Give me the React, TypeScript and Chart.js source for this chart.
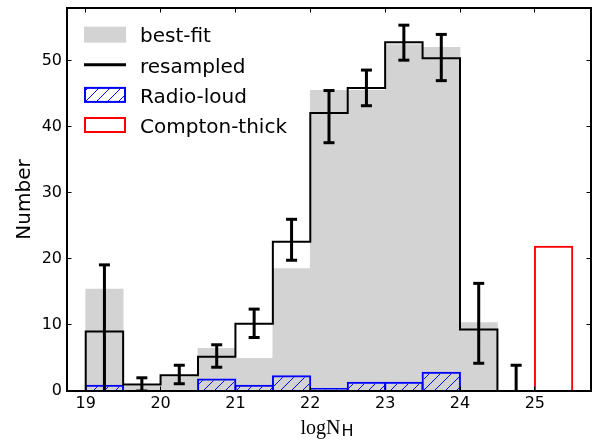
import React, { useEffect, useRef } from 'react';
import { Chart, registerables } from 'chart.js';

Chart.register(...registerables);

// ---- data ----
const binLefts = [19, 19.5, 20, 20.5, 21, 21.5, 22, 22.5, 23, 23.5, 24, 24.5];
const binWidth = 0.5;
const bestFit = [15.5, 0.8, 2.2, 6.5, 5.0, 18.6, 45.6, 45.6, 52.5, 52.1, 10.4, 0];
const resampled = [9, 1, 2.4, 5.2, 10.2, 22.6, 42.1, 45.9, 52.8, 50.4, 9.3, 0];
const errLow = [-1, 0, 1.1, 3.6, 8.1, 19.8, 37.6, 43.2, 50.1, 47.0, 4.2, -3.9];
const errHigh = [19.1, 2.0, 3.9, 7.0, 12.4, 26.0, 45.5, 48.6, 55.4, 54.0, 16.3, 3.9];
const radioLoud = [0.95, 0, 0, 1.9, 0.95, 2.4, 0.45, 1.4, 1.4, 2.9, 0, 0];
const comptonLefts = [25];
const comptonThick = [22];
const xTicks = [19, 20, 21, 22, 23, 24, 25];
const yTicks = [0, 10, 20, 30, 40, 50];
const xRange = [18.75, 25.75];
const yRange = [0, 58];
const seriesLabels = ['best-fit', 'resampled', 'Radio-loud', 'Compton-thick'];
const yTitle = 'Number';
const xTitleMain = 'logN';
const xTitleSub = 'H';

function makeHatch(ctx: CanvasRenderingContext2D, color: string, size: number) {
  const c = document.createElement('canvas');
  c.width = size;
  c.height = size;
  const g = c.getContext('2d')!;
  g.strokeStyle = color;
  g.lineWidth = 1;
  g.beginPath();
  g.moveTo(0, size);
  g.lineTo(size, 0);
  g.moveTo(-size / 2, size / 2);
  g.lineTo(size / 2, -size / 2);
  g.moveTo(size / 2, size * 1.5);
  g.lineTo(size * 1.5, size / 2);
  g.stroke();
  return ctx.createPattern(c, 'repeat');
}

const frameTicksPlugin = {
  id: 'frameTicks',
  afterDatasetsDraw(chart: any) {
    const { ctx, chartArea: a, scales } = chart;
    const L = 4.5;
    ctx.save();
    ctx.strokeStyle = '#000';
    ctx.lineWidth = 1;
    ctx.beginPath();
    scales.x.ticks.forEach((t: any) => {
      const px = Math.floor(scales.x.getPixelForValue(t.value)) + 0.5;
      ctx.moveTo(px, a.bottom);
      ctx.lineTo(px, a.bottom - L);
      ctx.moveTo(px, a.top);
      ctx.lineTo(px, a.top + L);
    });
    scales.y.ticks.forEach((t: any) => {
      const py = Math.floor(scales.y.getPixelForValue(t.value)) + 0.5;
      ctx.moveTo(a.left, py);
      ctx.lineTo(a.left + L, py);
      ctx.moveTo(a.right, py);
      ctx.lineTo(a.right - L, py);
    });
    ctx.stroke();
    ctx.lineWidth = 2;
    ctx.strokeRect(a.left, a.top, a.right - a.left, a.bottom - a.top);
    ctx.restore();
  },
};

const legendPlugin = {
  id: 'histLegend',
  afterDraw(chart: any) {
    const { ctx, chartArea: a } = chart;
    const ds = chart.data.datasets;
    const x0 = a.left + 17;
    const w = 42;
    const h = 16;
    ctx.save();
    [0, 1, 2, 3].forEach((di, i) => {
      const d = ds[di];
      const cy = a.top + 26.7 + i * 30.1;
      const top = cy - h / 2;
      if (d.type === 'line') {
        ctx.strokeStyle = d.borderColor;
        ctx.lineWidth = 3;
        ctx.beginPath();
        ctx.moveTo(x0, cy);
        ctx.lineTo(x0 + w, cy);
        ctx.stroke();
      } else if (!d.borderWidth) {
        ctx.fillStyle = d.backgroundColor;
        ctx.fillRect(x0, top, w, h);
      } else {
        ctx.fillStyle = '#fff';
        ctx.fillRect(x0, top, w, h);
        ctx.fillStyle = d.backgroundColor;
        ctx.fillRect(x0, top, w, h);
        ctx.strokeStyle = d.borderColor;
        ctx.lineWidth = 2;
        ctx.strokeRect(x0 + 1, top + 1, w - 2, h - 2);
      }
      ctx.fillStyle = '#000';
      ctx.font = '20px "DejaVu Sans"';
      ctx.textBaseline = 'alphabetic';
      ctx.textAlign = 'left';
      ctx.fillText(d.label, a.left + 73, cy + 7.7);
    });
    ctx.restore();
  },
};

const xTitlePlugin = {
  id: 'xTitle',
  afterDraw(chart: any) {
    const { ctx, chartArea: a } = chart;
    ctx.save();
    ctx.fillStyle = '#000';
    ctx.textBaseline = 'alphabetic';
    ctx.textAlign = 'left';
    const mainFont = '20px "Liberation Serif"';
    const subFont = '16px "DejaVu Sans"';
    ctx.font = mainFont;
    const wMain = ctx.measureText(xTitleMain).width;
    ctx.font = subFont;
    const wSub = ctx.measureText(xTitleSub).width;
    const cx = (a.left + a.right) / 2 - 2;
    const x = cx - (wMain + wSub + 1) / 2;
    const base = a.bottom + 43;
    ctx.font = mainFont;
    ctx.fillText(xTitleMain, x, base);
    ctx.font = subFont;
    ctx.fillText(xTitleSub, x + wMain + 1, base + 2);
    ctx.restore();
  },
};

export default function App() {
  const ref = useRef<HTMLCanvasElement>(null);
  useEffect(() => {
    document.body.style.margin = '0';
    const canvas = ref.current!;
    const c2d = canvas.getContext('2d')!;
    const hatch = makeHatch(c2d, '#0000ff', 11);
    const half = binWidth / 2;
    const barPts = (vals: number[]) => binLefts.map((l, i) => ({ x: l + half, y: vals[i] }));
    const stepPts = [
      { x: binLefts[0], y: 0 },
      ...binLefts.map((l, i) => ({ x: l, y: resampled[i] })),
      { x: binLefts[binLefts.length - 1] + binWidth, y: 0 },
    ];
    const errPts: any[] = [];
    binLefts.forEach((l, i) => {
      errPts.push({ x: l + half, y: errLow[i] });
      errPts.push({ x: l + half, y: errHigh[i] });
      errPts.push({ x: l + half, y: null });
    });
    const chart = new Chart(canvas, {
      type: 'bar',
      data: {
        datasets: [
          {
            type: 'bar',
            label: seriesLabels[0],
            data: barPts(bestFit),
            backgroundColor: '#d3d3d3',
            borderWidth: 0,
            barPercentage: 1.02,
            order: 5,
          },
          {
            type: 'line',
            label: seriesLabels[1],
            data: stepPts,
            borderColor: '#000000',
            borderWidth: 2,
            stepped: true,
            pointRadius: 0,
            fill: false,
            order: 1,
          },
          {
            type: 'bar',
            label: seriesLabels[2],
            data: barPts(radioLoud),
            backgroundColor: hatch,
            borderColor: '#0000ff',
            borderWidth: 2,
            barPercentage: 1.05,
            order: 3,
          },
          {
            type: 'bar',
            label: seriesLabels[3],
            data: comptonLefts.map((l, i) => ({ x: l + half, y: comptonThick[i] })),
            backgroundColor: 'rgba(0,0,0,0)',
            borderColor: '#ff0000',
            borderWidth: 2,
            barPercentage: 1.05,
            order: 2,
          },
          {
            type: 'line',
            label: 'errors',
            data: errPts,
            borderColor: '#000000',
            borderWidth: 3,
            spanGaps: false,
            fill: false,
            pointStyle: 'line',
            pointRadius: 5.5,
            pointBorderWidth: 3,
            pointBorderColor: '#000000',
            pointBackgroundColor: '#000000',
            order: 0,
          },
        ] as any,
      },
      options: {
        responsive: false,
        animation: false,
        events: [],
        layout: { autoPadding: false, padding: { top: 8, right: 2, bottom: 0, left: 0 } },
        datasets: { bar: { grouped: false, categoryPercentage: 1 } } as any,
        scales: {
          x: {
            type: 'linear',
            min: xRange[0],
            max: xRange[1],
            bounds: 'data',
            offset: false,
            grid: { display: false, drawTicks: false },
            border: { display: false },
            ticks: {
              color: '#000',
              font: { size: 16, family: 'DejaVu Sans' },
              padding: 3,
              maxRotation: 0,
              autoSkip: false,
            },
            afterBuildTicks: (s: any) => {
              s.ticks = xTicks.map((v) => ({ value: v }));
            },
            afterFit: (s: any) => {
              s.height = 50;
              s.paddingLeft = 0;
              s.paddingRight = 0;
              s.paddingTop = 0;
              s.paddingBottom = 0;
            },
          },
          y: {
            type: 'linear',
            min: yRange[0],
            max: yRange[1],
            bounds: 'data',
            grid: { display: false, drawTicks: false },
            border: { display: false },
            ticks: {
              color: '#000',
              font: { size: 16, family: 'DejaVu Sans' },
              padding: 5,
            },
            title: {
              display: true,
              text: yTitle,
              color: '#000',
              font: { size: 20, family: 'DejaVu Sans' },
              padding: { top: 13, bottom: 0 },
            },
            afterBuildTicks: (s: any) => {
              s.ticks = yTicks.map((v) => ({ value: v }));
            },
            afterFit: (s: any) => {
              s.width = 67;
              s.paddingLeft = 0;
              s.paddingRight = 0;
              s.paddingTop = 0;
              s.paddingBottom = 0;
            },
          },
        },
        plugins: {
          legend: { display: false },
          tooltip: { enabled: false },
        },
      } as any,
      plugins: [frameTicksPlugin, legendPlugin, xTitlePlugin],
    });
    return () => chart.destroy();
  }, []);
  return (
    <div style={{ width: 593, height: 441 }}>
      <canvas ref={ref} width={593} height={441} style={{ display: 'block' }} />
    </div>
  );
}
